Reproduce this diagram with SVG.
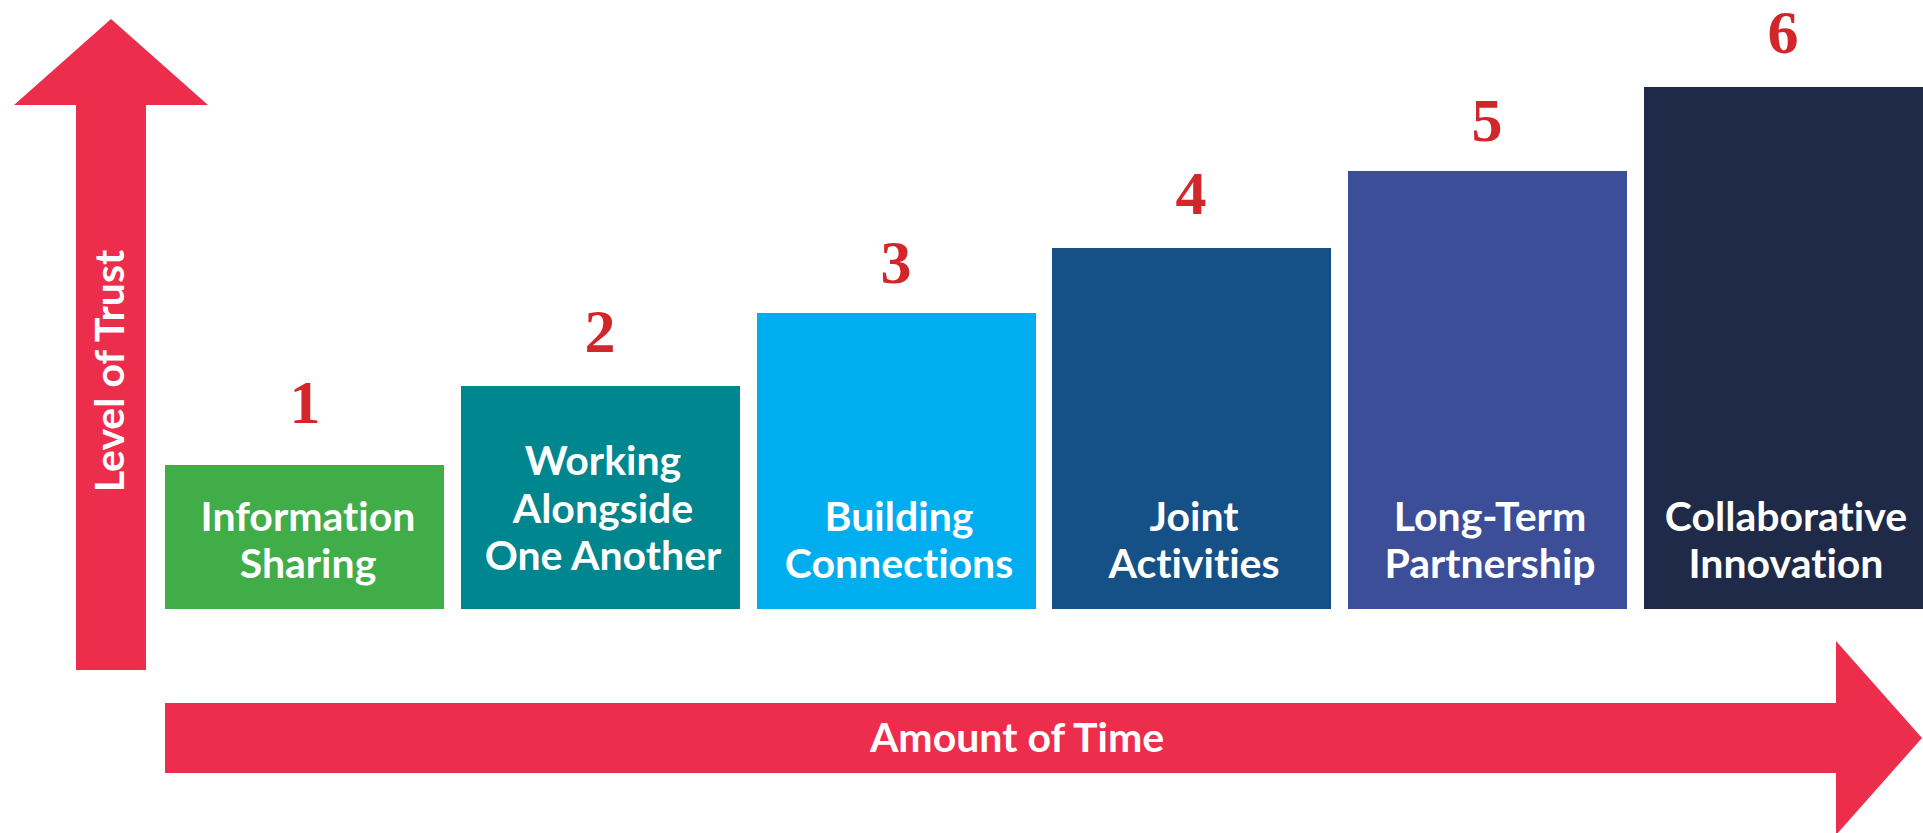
<svg xmlns="http://www.w3.org/2000/svg" width="1923" height="833" viewBox="0 0 1923 833">
<style>
.arrow{fill:#EC2E4C}
.lbl{font-family:Lato,"Liberation Sans",sans-serif;font-weight:700;font-size:41px;fill:#FFFFFF;text-anchor:middle;font-variant-ligatures:none;font-feature-settings:"liga" 0,"dlig" 0,"clig" 0}
.axis{font-family:Lato,"Liberation Sans",sans-serif;font-weight:700;font-size:41px;fill:#FFFFFF;text-anchor:middle;font-variant-ligatures:none;font-feature-settings:"liga" 0,"dlig" 0,"clig" 0}
.num{font-family:"Liberation Serif","DejaVu Serif",serif;font-weight:700;font-size:62px;fill:#D2262B;text-anchor:middle}
</style>
<rect width="1923" height="833" fill="#FFFFFF"/>
<g id="connectors">
  <g id="axis-trust">
    <polygon class="arrow" points="111,19 208,105 146,105 146,670 76,670 76,105 14,105"/>
    <text class="axis" transform="translate(124,371) rotate(-90)">Level of Trust</text>
  </g>
  <g id="axis-time">
    <polygon class="arrow" points="165,703 1836,703 1836,641 1922,738 1836,835 1836,773 165,773"/>
    <text class="axis" x="1017" y="752">Amount of Time</text>
  </g>
</g>
<g id="step1">
  <rect x="165" y="465" width="279" height="144" fill="#41AD49"/>
  <text class="num" x="305" y="423">1</text>
  <text class="lbl" x="308" y="531">Information</text>
  <text class="lbl" x="308" y="578">Sharing</text>
</g>
<g id="step2">
  <rect x="461" y="386" width="279" height="223" fill="#00868F"/>
  <text class="num" x="600" y="352">2</text>
  <text class="lbl" x="603" y="475">Working</text>
  <text class="lbl" x="603" y="523">Alongside</text>
  <text class="lbl" x="603" y="570">One Another</text>
</g>
<g id="step3">
  <rect x="757" y="313" width="279" height="296" fill="#00AEEF"/>
  <text class="num" x="896" y="283">3</text>
  <text class="lbl" x="899" y="531">Building</text>
  <text class="lbl" x="899" y="578">Connections</text>
</g>
<g id="step4">
  <rect x="1052" y="248" width="279" height="361" fill="#155086"/>
  <text class="num" x="1191" y="214">4</text>
  <text class="lbl" x="1194" y="531">Joint</text>
  <text class="lbl" x="1194" y="578">Activities</text>
</g>
<g id="step5">
  <rect x="1348" y="171" width="279" height="438" fill="#3C4E98"/>
  <text class="num" x="1487" y="141">5</text>
  <text class="lbl" x="1490" y="531">Long-Term</text>
  <text class="lbl" x="1490" y="578">Partnership</text>
</g>
<g id="step6">
  <rect x="1644" y="87" width="279" height="522" fill="#1E2A47"/>
  <text class="num" x="1783" y="53">6</text>
  <text class="lbl" x="1786" y="531">Collaborative</text>
  <text class="lbl" x="1786" y="578">Innovation</text>
</g>
</svg>
